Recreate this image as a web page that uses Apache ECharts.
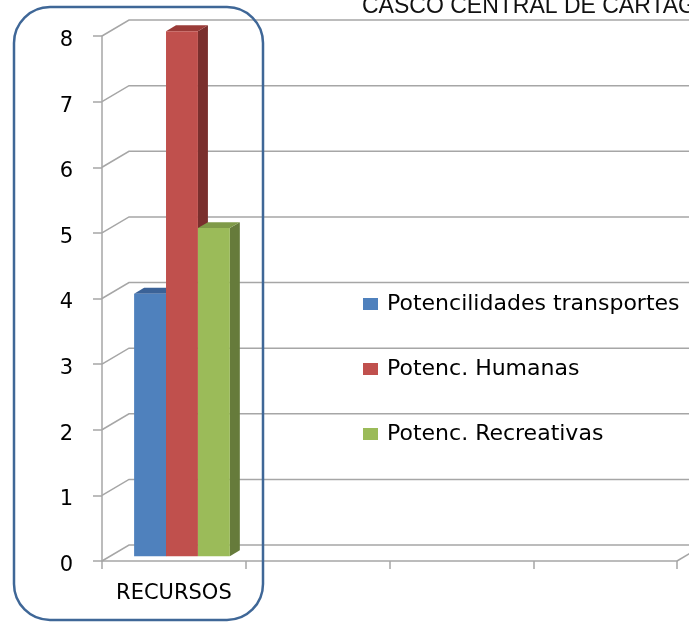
<!DOCTYPE html>
<html>
<head>
<meta charset="utf-8">
<script src="https://cdn.jsdelivr.net/npm/echarts@6/dist/echarts.min.js"></script>
<style>
html,body{margin:0;padding:0;background:#fff;}
#chart{width:689px;height:622px;}
</style>
</head>
<body>
<div id="chart"></div>
<script>
// ---- data ----
const titleText = "CASCO CENTRAL DE CARTAGO";
const categories = ["RECURSOS", "", "", ""];
const seriesNames = ["Potencilidades transportes", "Potenc. Humanas", "Potenc. Recreativas"];
const seriesValues = [4, 8, 5];
const yTickValues = [0, 1, 2, 3, 4, 5, 6, 7, 8];

// ---- styles / layout ----
const frontColors = ["#4f81bd", "#c0504d", "#9bbb59"];
const topColors = ["#3b6297", "#9a3b38", "#7f9a48"];
const sideColors = ["#385d8a", "#7a2f2d", "#667b3b"];
const DX = 27, DY = -16;          // perspective depth offset
const F0 = 0.3, F1 = 0.67;        // bar depth position (front / back)
const BAR_FRAC = 0.222;           // bar width as fraction of band
const GRID_COLOR = "#a6a6a6";

const chart = echarts.init(document.getElementById('chart'), null, {renderer: 'canvas'});

function barRender(idx) {
  return function (params, api) {
    const cat = api.value(0), v = api.value(1);
    const topPt = api.coord([cat, v]);
    const basePt = api.coord([cat, 0]);
    const band = api.size([1, 0])[0];
    const w = band * BAR_FRAC;
    const x0 = topPt[0] + F0 * DX + (idx - 1.5) * w;
    const yt = topPt[1] + F0 * DY;
    const yb = basePt[1] + F0 * DY;
    const ddx = (F1 - F0) * DX, ddy = (F1 - F0) * DY;
    return {
      type: 'group',
      children: [
        {type: 'polygon', shape: {points: [[x0 + w, yt], [x0 + w + ddx, yt + ddy], [x0 + w + ddx, yb + ddy], [x0 + w, yb]]},
          style: {fill: sideColors[idx]}},
        {type: 'polygon', shape: {points: [[x0, yt], [x0 + ddx, yt + ddy], [x0 + w + ddx, yt + ddy], [x0 + w, yt]]},
          style: {fill: topColors[idx]}},
        {type: 'rect', shape: {x: x0, y: yt, width: w, height: yb - yt},
          style: {fill: frontColors[idx]}}
      ]
    };
  };
}

function wallRender(params, api) {
  const v = api.value(1);
  const y = api.coord([0, v])[1];
  const cs = params.coordSys;
  const children = [{
    type: 'polyline',
    shape: {points: [[cs.x, y], [cs.x + DX, y + DY], [cs.x + cs.width + DX + 30, y + DY]]},
    style: {stroke: GRID_COLOR, lineWidth: 1.5, fill: null}
  }];
  if (v === 0) {
    children.push({
      type: 'line',
      shape: {x1: cs.x + cs.width, y1: y, x2: cs.x + cs.width + DX, y2: y + DY},
      style: {stroke: GRID_COLOR, lineWidth: 1.5}
    });
  }
  return {type: 'group', children: children};
}

const series = [{
  type: 'custom',
  name: 'wall',
  z: 1,
  silent: true,
  renderItem: wallRender,
  data: yTickValues.map(t => [0, t])
}];
seriesNames.forEach((n, i) => {
  series.push({
    type: 'custom',
    name: n,
    z: 3,
    itemStyle: {color: frontColors[i]},
    renderItem: barRender(i),
    encode: {x: 0, y: 1},
    data: [[0, seriesValues[i]]]
  });
});

chart.setOption({
  animation: false,
  backgroundColor: '#ffffff',
  title: {
    text: titleText,
    left: 357,
    top: -10,
    textStyle: {fontFamily: 'Liberation Sans', fontSize: 23, fontWeight: 'normal', color: '#111'}
  },
  legend: {
    data: seriesNames,
    orient: 'vertical',
    left: 358,
    top: 288,
    icon: 'rect',
    itemWidth: 15,
    itemHeight: 12,
    itemGap: 43,
    textStyle: {fontFamily: 'DejaVu Sans', fontSize: 22, color: '#000', lineHeight: 22, padding: [0, 0, 0, 4]}
  },
  grid: {left: 102, right: 12, top: 36, bottom: 61},
  xAxis: {
    type: 'category',
    data: categories,
    boundaryGap: true,
    axisLine: {show: true, lineStyle: {color: GRID_COLOR, width: 1.5}},
    axisTick: {show: true, alignWithLabel: false, interval: 0, length: 8, lineStyle: {color: GRID_COLOR, width: 1.5}},
    axisLabel: {interval: 0, margin: 22, fontFamily: 'DejaVu Sans', fontSize: 21, color: '#000'},
    splitLine: {show: false}
  },
  yAxis: {
    type: 'value',
    min: 0,
    max: 8,
    interval: 1,
    axisLine: {show: true, lineStyle: {color: GRID_COLOR, width: 1.5}},
    axisTick: {show: true, length: 9, lineStyle: {color: GRID_COLOR, width: 1.5}},
    axisLabel: {margin: 29, fontFamily: 'DejaVu Sans', fontSize: 21, color: '#000', verticalAlign: 'top', lineHeight: 21, padding: [-6, 0, 0, 0]},
    splitLine: {show: false}
  },
  graphic: [{
    type: 'rect',
    z: 100,
    silent: true,
    shape: {x: 14, y: 7, width: 249, height: 613, r: 36},
    style: {fill: null, stroke: '#3f6797', lineWidth: 2.5}
  }],
  series: series
});
</script>
</body>
</html>
